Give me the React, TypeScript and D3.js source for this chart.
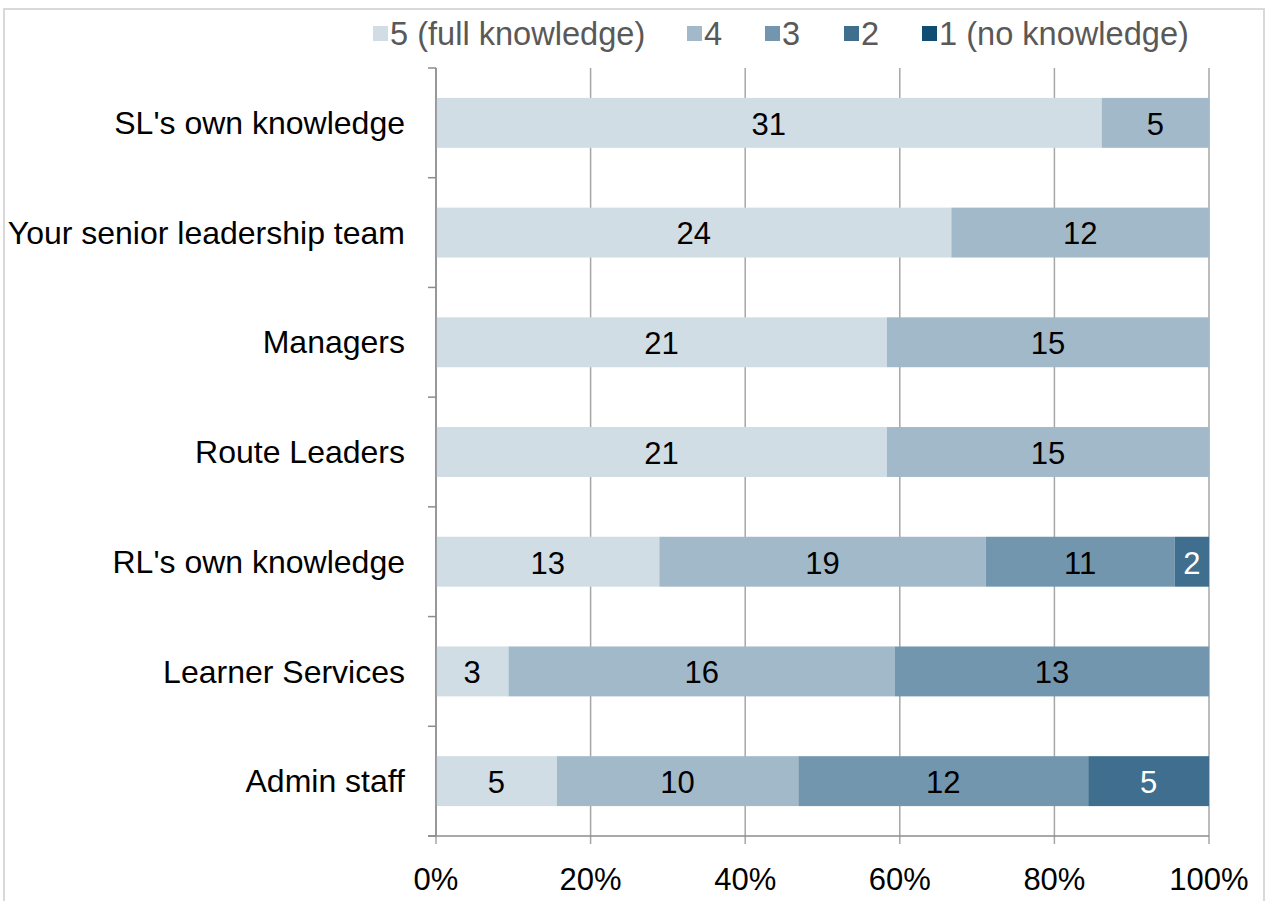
import React from "react";
import * as d3 from "d3";

const categories = [
  "SL's own knowledge",
  "Your senior leadership team",
  "Managers",
  "Route Leaders",
  "RL's own knowledge",
  "Learner Services",
  "Admin staff",
];
const seriesNames = ["5 (full knowledge)", "4", "3", "2", "1 (no knowledge)"];
const s5 = [31, 24, 21, 21, 13, 3, 5];
const s4 = [5, 12, 15, 15, 19, 16, 10];
const s3 = [0, 0, 0, 0, 11, 13, 12];
const s2 = [0, 0, 0, 0, 2, 0, 5];
const s1 = [0, 0, 0, 0, 0, 0, 0];
const xTicks = [0, 0.2, 0.4, 0.6, 0.8, 1];

const colors = ["#d0dde5", "#a2b9c9", "#7296ae", "#3f6e8e", "#0f4d73"];
const labelColors = ["#000", "#000", "#000", "#fff", "#fff"];
const FONT = "'Liberation Sans', Arial, sans-serif";

export default function App() {
  const W = 1267, H = 901;
  const left = 436, right = 1209, top = 68, bottom = 836;
  const series = [s5, s4, s3, s2, s1];
  const rows = categories.map((c, i) => {
    const vals = series.map((s) => s[i]);
    return { c, vals, total: d3.sum(vals) };
  });
  const x = d3.scaleLinear().domain([0, 1]).range([left, right]);
  const y = d3
    .scaleBand<string>()
    .domain(categories)
    .range([top, bottom])
    .paddingInner(0.545)
    .paddingOuter(0.2725);
  const step = (bottom - top) / categories.length;

  const legendX = [373, 687, 765, 844, 922];

  return (
    <div style={{ position: "absolute", left: 0, top: 0 }}>
      <svg width={W} height={H} style={{ display: "block", background: "#fff" }}>
        <rect x={4} y={9} width={1260} height={900} fill="none" stroke="#d9d9d9" strokeWidth={2} />
        {xTicks.map((t) => (
          <line key={"g" + t} x1={x(t)} x2={x(t)} y1={top} y2={bottom + 8} stroke="#a6a6a6" strokeWidth={1.5} />
        ))}
        {d3.range(categories.length + 1).map((i) => (
          <line key={"yt" + i} x1={428} x2={left} y1={top + i * step} y2={top + i * step} stroke="#8c8c8c" strokeWidth={1.5} />
        ))}
        {rows.map((r) => {
          let acc = 0;
          return r.vals.map((v, k) => {
            const x0 = x(acc / r.total);
            acc += v;
            const x1 = x(acc / r.total);
            if (v === 0) return null;
            const yy = y(r.c)!;
            return (
              <g key={r.c + k}>
                <rect x={x0} y={yy} width={x1 - x0} height={y.bandwidth()} fill={colors[k]} />
                <text
                  x={(x0 + x1) / 2}
                  y={yy + y.bandwidth() / 2 + 1}
                  dy="0.35em"
                  textAnchor="middle"
                  fontFamily={FONT}
                  fontSize={31}
                  fill={labelColors[k]}
                >
                  {v}
                </text>
              </g>
            );
          });
        })}
        <line x1={left} x2={left} y1={top} y2={bottom} stroke="#8c8c8c" strokeWidth={1.5} />
        <line x1={428} x2={right} y1={bottom} y2={bottom} stroke="#8c8c8c" strokeWidth={1.5} />
        {categories.map((c) => (
          <text
            key={c}
            x={405}
            y={y(c)! + y.bandwidth() / 2}
            dy="0.35em"
            textAnchor="end"
            fontFamily={FONT}
            fontSize={32}
            fill="#000"
          >
            {c}
          </text>
        ))}
        {xTicks.map((t) => (
          <text
            key={"xl" + t}
            x={x(t)}
            y={879}
            dy="0.35em"
            textAnchor="middle"
            fontFamily={FONT}
            fontSize={31}
            fill="#000"
          >
            {d3.format(".0%")(t)}
          </text>
        ))}
        {seriesNames.map((n, k) => (
          <g key={n}>
            <rect x={legendX[k]} y={26} width={15} height={15} fill={colors[k]} />
            <text x={legendX[k] + 17} y={34} dy="0.35em" fontFamily={FONT} fontSize={32.6} fill="#595959">
              {n}
            </text>
          </g>
        ))}
      </svg>
    </div>
  );
}
